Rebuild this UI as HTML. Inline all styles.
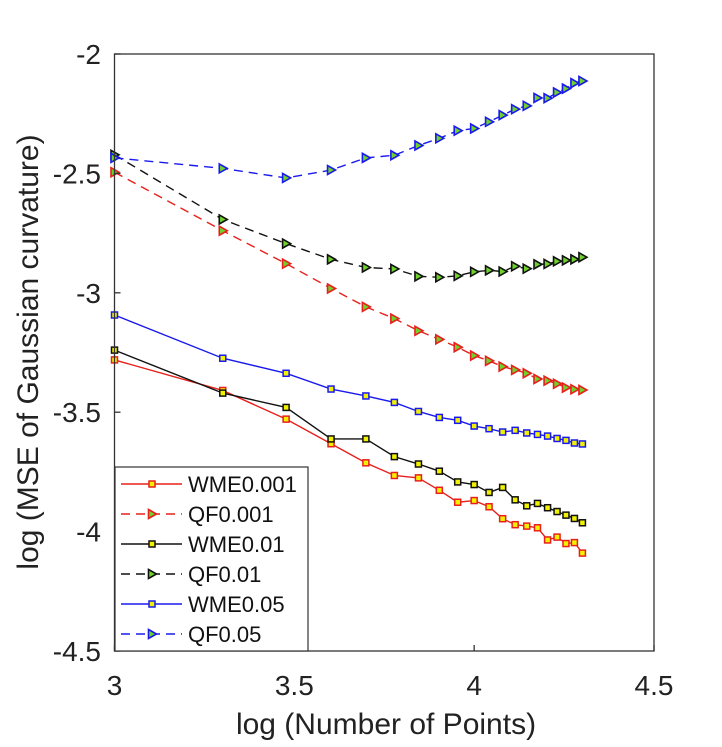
<!DOCTYPE html>
<html><head><meta charset="utf-8">
<style>
html,body{margin:0;padding:0;background:#fff;}
svg{display:block;font-family:"Liberation Sans",Arial,sans-serif;}
</style></head>
<body>
<svg id="chart" width="722" height="747" viewBox="0 0 722 747" xmlns="http://www.w3.org/2000/svg">
<rect x="0" y="0" width="722" height="747" fill="#fff"/>
<g id="series"></g>
<g id="axes"></g>
<g id="legend"></g>
</svg>
<script>
const kValues = [1,2,3,4,5,6,7,8,9,10,11,12,13,14,15,16,17,18,19,20];
const xTicks = [3, 3.5, 4, 4.5];
const xTickLabels = ["3", "3.5", "4", "4.5"];
const yTicks = [-2, -2.5, -3, -3.5, -4, -4.5];
const yTickLabels = ["-2", "-2.5", "-3", "-3.5", "-4", "-4.5"];
const wme001 = [-3.281,-3.409,-3.529,-3.632,-3.712,-3.765,-3.775,-3.827,-3.877,-3.870,-3.896,-3.946,-3.971,-3.977,-3.984,-4.035,-4.023,-4.050,-4.046,-4.090];
const qf001 = [-2.495,-2.740,-2.878,-2.982,-3.059,-3.108,-3.159,-3.195,-3.228,-3.263,-3.285,-3.309,-3.323,-3.337,-3.361,-3.368,-3.381,-3.397,-3.404,-3.407];
const wme01 = [-3.240,-3.420,-3.480,-3.612,-3.612,-3.686,-3.717,-3.747,-3.792,-3.803,-3.836,-3.815,-3.867,-3.892,-3.882,-3.900,-3.916,-3.931,-3.945,-3.963];
const qf01 = [-2.422,-2.693,-2.794,-2.860,-2.894,-2.900,-2.931,-2.935,-2.929,-2.912,-2.906,-2.911,-2.889,-2.899,-2.881,-2.879,-2.868,-2.864,-2.860,-2.851];
const wme05 = [-3.093,-3.274,-3.337,-3.403,-3.432,-3.459,-3.497,-3.522,-3.534,-3.558,-3.569,-3.583,-3.576,-3.587,-3.593,-3.600,-3.610,-3.618,-3.629,-3.633];
const qf05 = [-2.435,-2.479,-2.519,-2.486,-2.435,-2.424,-2.383,-2.353,-2.321,-2.312,-2.284,-2.256,-2.231,-2.217,-2.184,-2.185,-2.161,-2.145,-2.122,-2.113];
const seriesNames = ["WME0.001","QF0.001","WME0.01","QF0.01","WME0.05","QF0.05"];

const NS = "http://www.w3.org/2000/svg";
const L = 114.5, R = 654, T = 54, B = 651;
function xs(v){ return L + (v - 3) / 1.5 * (R - L); }
function ys(v){ return T + (-2 - v) / 2.5 * (B - T); }
function mk(tag, attrs, parent){ const e = document.createElementNS(NS, tag); for (const k in attrs) e.setAttribute(k, attrs[k]); parent.appendChild(e); return e; }

const styles = [
  {data: wme001, color: "#e8201c", dash: null, marker: "sq", name: "series-wme0-001"},
  {data: qf001, color: "#e8201c", dash: "9,6", marker: "tri", name: "series-qf0-001"},
  {data: wme01, color: "#111", dash: null, marker: "sq", name: "series-wme0-01"},
  {data: qf01, color: "#111", dash: "9,6", marker: "tri", name: "series-qf0-01"},
  {data: wme05, color: "#1a1aee", dash: null, marker: "sq", name: "series-wme0-05"},
  {data: qf05, color: "#1a1aee", dash: "9,6", marker: "tri", name: "series-qf0-05"}
];
function drawMarker(g, type, cx, cy, color){
  let m;
  if (type === "sq") {
    m = mk("rect", {x: cx - 3, y: cy - 3, width: 6, height: 6, fill: "#f2f200", stroke: color, "stroke-width": 1.5}, g);
  } else {
    m = mk("polygon", {points: (cx-3.5)+","+(cy-4.5)+" "+(cx+4.5)+","+cy+" "+(cx-3.5)+","+(cy+4.5), fill: "#6fd12c", stroke: color, "stroke-width": 1.6}, g);
  }
  return m;
}
const sg = document.getElementById("series");
styles.forEach(s => {
  const g = mk("g", {}, sg);
  
  
  const pts = s.data.map((v, i) => xs(Math.log10(1000 * kValues[i])).toFixed(2) + "," + ys(v).toFixed(2)).join(" ");
  const pl = mk("polyline", {points: pts, fill: "none", stroke: s.color, "stroke-width": 1.4}, g);
  if (s.dash) pl.setAttribute("stroke-dasharray", s.dash);
  
  
  s.data.forEach((v, i) => {
    const m = drawMarker(g, s.marker, xs(Math.log10(1000 * kValues[i])), ys(v), s.color);
    
    
  });
});

const ag = document.getElementById("axes");
const box = mk("rect", {x: L, y: T, width: R - L, height: B - T, fill: "none", stroke: "#333", "stroke-width": 1.3}, ag);


xTicks.forEach((v, i) => {
  const x = xs(v);
  const t = mk("line", {x1: x, y1: B, x2: x, y2: B - 6, stroke: "#333", "stroke-width": 1.3}, ag);
  
  
  const tx = mk("text", {x: x, y: 695, "text-anchor": "middle", "font-size": 28, fill: "#222"}, ag);
  tx.textContent = xTickLabels[i];
  
  
});
yTicks.forEach((v, i) => {
  const y = ys(v);
  const t = mk("line", {x1: L, y1: y, x2: L + 6, y2: y, stroke: "#333", "stroke-width": 1.3}, ag);
  
  
  const tx = mk("text", {x: 101, y: y + 10, "text-anchor": "end", "font-size": 28, fill: "#222"}, ag);
  tx.textContent = yTickLabels[i];
  
  
});
const xt = mk("text", {x: 386, y: 734, "text-anchor": "middle", "font-size": 30, fill: "#222"}, ag);
xt.textContent = "log (Number of Points)";


const yt = mk("text", {x: 0, y: 0, "text-anchor": "middle", "font-size": 30, fill: "#222", transform: "translate(38,352) rotate(-90)"}, ag);
yt.textContent = "log (MSE of Gaussian curvature)";



const lg = document.getElementById("legend");
const lb = mk("rect", {x: 115, y: 467, width: 193, height: 184, fill: "#fff", stroke: "#333", "stroke-width": 1.2}, lg);


styles.forEach((s, i) => {
  const y = 484 + i * 30;
  const g = mk("g", {}, lg);
  
  
  const ln = mk("line", {x1: 121, y1: y, x2: 182, y2: y, stroke: s.color, "stroke-width": 1.4}, g);
  if (s.dash) ln.setAttribute("stroke-dasharray", "9,6");
  drawMarker(g, s.marker, 152, y, s.color);
  const tx = mk("text", {x: 188, y: y + 8, "font-size": 22, fill: "#111"}, g);
  tx.textContent = seriesNames[i];
});
</script>
</body></html>
